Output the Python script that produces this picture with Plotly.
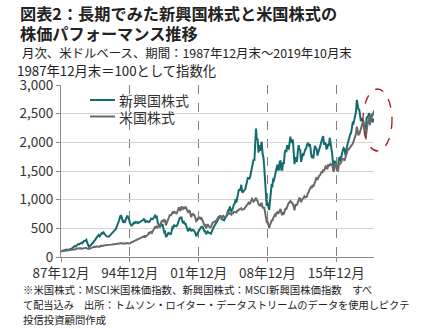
import pandas as pd
import plotly.graph_objects as go

# Monthly index levels, end of Dec 1987 = 100 (USD, dividends reinvested)
dates = pd.date_range("1987-12-01", "2019-10-01", freq="MS")

em_index = [
    100,
    105, 112, 118, 122, 126, 132, 130, 128, 125, 133, 138, 142,
    150, 155, 170, 180, 192, 185, 200, 210, 225, 220, 230, 240,
    250, 240, 260, 280, 275, 290, 300, 250, 200, 180, 190, 205,
    210, 235, 250, 265, 290, 300, 330, 350, 370, 385, 360, 380,
    400, 420, 410, 430, 405, 380, 370, 360, 350, 355, 365, 380,
    390, 400, 420, 440, 450, 470, 490, 530, 560, 600, 640, 700,
    730, 690, 640, 600, 620, 610, 650, 700, 720, 690, 660, 600,
    550, 540, 560, 580, 600, 590, 610, 600, 610, 590, 600, 605,
    630, 640, 635, 640, 660, 650, 610, 620, 625, 615, 610, 620,
    660, 670, 665, 660, 680, 710, 735, 690, 700, 600, 570, 540,
    520, 560, 570, 560, 480, 430, 440, 350, 365, 390, 420, 410,
    405, 400, 450, 520, 510, 560, 545, 540, 540, 560, 610, 670,
    680, 690, 690, 630, 590, 610, 580, 580, 530, 490, 450, 470,
    510, 480, 450, 470, 475, 465, 445, 420, 360, 380, 420, 450,
    480, 490, 520, 530, 520, 480, 450, 450, 400, 420, 445, 425,
    425, 415, 405, 450, 480, 510, 535, 560, 565, 610, 610, 660,
    690, 720, 720, 660, 650, 650, 640, 675, 700, 715, 770, 810,
    810, 880, 820, 800, 830, 860, 920, 930, 1010, 950, 1030, 1100,
    1170, 1170, 1180, 1260, 1140, 1130, 1150, 1180, 1190, 1250, 1330, 1380,
    1380, 1370, 1410, 1480, 1540, 1600, 1700, 1680, 1890, 2240, 2050, 2060,
    1820, 1950, 1850, 2000, 2010, 1800, 1740, 1570, 1330, 960, 890, 950,
    880, 820, 960, 1080, 1250, 1240, 1350, 1340, 1460, 1480, 1550, 1610,
    1510, 1530, 1660, 1680, 1520, 1520, 1650, 1620, 1810, 1870, 1830, 1950,
    1900, 1890, 1990, 2100, 2010, 2000, 2050, 1860, 1620, 1740, 1700, 1660,
    1850, 1950, 1880, 1860, 1660, 1760, 1790, 1780, 1860, 1870, 1890, 1960,
    1990, 1970, 1940, 1950, 1860, 1730, 1750, 1720, 1860, 1940, 1900, 1880,
    1770, 1830, 1890, 1900, 1970, 2020, 2070, 2110, 1960, 1990, 1980, 1890,
    1900, 1970, 1940, 2080, 1990, 1930, 1800, 1630, 1570, 1680, 1620, 1570,
    1520, 1510, 1720, 1730, 1670, 1740, 1830, 1870, 1900, 1880, 1790, 1800,
    1930, 1990, 2040, 2080, 2140, 2160, 2290, 2340, 2330, 2410, 2440, 2530,
    2740, 2630, 2580, 2570, 2480, 2370, 2420, 2370, 2350, 2220, 2250, 2240,
    2430, 2440, 2460, 2510, 2330, 2480, 2460, 2350, 2390, 2410,
]

us_index = [
    100,
    102, 107, 105, 106, 108, 112, 111, 108, 112, 115, 114, 117,
    124, 121, 125, 131, 136, 136, 147, 150, 150, 147, 150, 154,
    145, 147, 151, 147, 160, 160, 159, 146, 139, 139, 147, 152,
    159, 170, 174, 175, 182, 174, 182, 186, 183, 185, 178, 197,
    194, 197, 194, 199, 200, 197, 205, 201, 203, 204, 211, 214,
    216, 219, 224, 218, 224, 225, 224, 232, 230, 235, 233, 236,
    244, 237, 227, 230, 234, 229, 236, 245, 239, 245, 236, 240,
    247, 256, 264, 271, 282, 289, 298, 299, 312, 311, 325, 331,
    343, 347, 350, 356, 365, 367, 350, 358, 378, 388, 418, 410,
    435, 439, 421, 447, 474, 496, 535, 506, 533, 516, 540, 550,
    556, 597, 627, 634, 624, 650, 643, 550, 585, 633, 672, 712,
    741, 718, 747, 776, 758, 800, 775, 772, 751, 799, 816, 865,
    822, 808, 880, 860, 842, 862, 850, 878, 846, 842, 782, 787,
    815, 740, 693, 747, 752, 734, 726, 680, 625, 637, 686, 692,
    682, 669, 694, 652, 647, 601, 555, 559, 498, 541, 573, 540,
    526, 518, 523, 566, 596, 603, 614, 626, 619, 654, 660, 695,
    707, 716, 705, 694, 703, 717, 693, 696, 704, 715, 744, 769,
    750, 766, 752, 738, 762, 763, 791, 784, 790, 777, 806, 806,
    826, 828, 838, 849, 824, 826, 831, 850, 871, 899, 915, 928,
    947, 928, 938, 980, 1014, 997, 966, 980, 1016, 1032, 988, 980,
    922, 892, 888, 931, 943, 864, 856, 869, 791, 659, 611, 618,
    566, 505, 549, 602, 636, 637, 686, 711, 737, 722, 766, 780,
    752, 776, 822, 836, 769, 728, 779, 742, 809, 840, 839, 893,
    914, 946, 946, 975, 964, 947, 927, 876, 814, 904, 901, 910,
    952, 993, 1025, 1018, 956, 996, 1010, 1033, 1058, 1039, 1045, 1054,
    1109, 1124, 1166, 1188, 1216, 1200, 1262, 1225, 1263, 1318, 1357, 1392,
    1343, 1404, 1414, 1424, 1456, 1487, 1467, 1526, 1503, 1540, 1582, 1578,
    1531, 1615, 1590, 1604, 1624, 1593, 1626, 1527, 1487, 1612, 1617, 1590,
    1510, 1505, 1612, 1617, 1645, 1650, 1711, 1712, 1712, 1679, 1740, 1772,
    1806, 1877, 1877, 1896, 1922, 1933, 1970, 1975, 2016, 2063, 2127, 2151,
    2275, 2190, 2135, 2142, 2195, 2208, 2289, 2366, 2378, 2213, 2257, 2080,
    2250, 2320, 2360, 2455, 2300, 2460, 2500, 2455, 2500, 2555,
]

tick_dates = ["1987-12-01", "1994-12-01", "2001-12-01", "2008-12-01", "2015-12-01"]
tick_labels = ["87年12月", "94年12月", "01年12月", "08年12月", "15年12月"]
y_ticks = [0, 500, 1000, 1500, 2000, 2500, 3000]

series_names = ["新興国株式", "米国株式"]
series_colors = ["#146b6e", "#6a6a6a"]

FONT = "Noto Sans CJK JP"
W, H = 431, 329
L, R, T, B = 61, 57, 85, 72
PW, PH = W - L - R, H - T - B


def px(x):
    return (x - L) / PW


def py(y):
    return (H - B - y) / PH


fig = go.Figure()
for name, vals, col in zip(series_names, [em_index, us_index], series_colors):
    fig.add_trace(go.Scatter(
        x=dates, y=vals, name=name, mode="lines",
        line=dict(color=col, width=2), showlegend=False,
    ))

# legend drawn as short line samples with text labels
for i, (name, col) in enumerate(zip(series_names, series_colors)):
    yy = py(100 + i * 16.5)
    fig.add_shape(type="line", xref="paper", yref="paper",
                  x0=px(90), x1=px(115), y0=yy, y1=yy,
                  line=dict(color=col, width=2))
    fig.add_annotation(xref="paper", yref="paper", x=px(117), y=yy,
                       text=name, showarrow=False, xanchor="left", yanchor="middle",
                       font=dict(family=FONT, size=14, color="#333333"))

# dashed ellipse highlighting the latest months
fig.add_shape(type="circle", xref="paper", yref="paper",
              x0=px(363), x1=px(392), y0=py(151), y1=py(89),
              line=dict(color="#b01818", width=1.3, dash="dash"))

# headings and notes
texts = [
    ("図表2：長期でみた新興国株式と米国株式の", 18, 13, 16.2, True),
    ("株価パフォーマンス推移", 18, 33, 16.2, True),
    ("月次、米ドルベース、期間：1987年12月末～2019年10月末", 20, 53, 12.4, False),
    ("1987年12月末＝100として指数化", 15, 70.5, 13.3, False),
    ("※米国株式：MSCI米国株価指数、新興国株式：MSCI新興国株価指数　すべ", 21, 289, 10.4, False),
    ("て配当込み　出所：トムソン・ロイター・データストリームのデータを使用しピクテ", 21, 304, 10.2, False),
    ("投信投資顧問作成", 21, 319, 10.4, False),
]
for txt, x, y, size, bold in texts:
    fig.add_annotation(xref="paper", yref="paper", x=px(x), y=py(y),
                       text=f"<b>{txt}</b>" if bold else txt,
                       showarrow=False, xanchor="left", yanchor="middle",
                       font=dict(family=FONT, size=size, color="#222222"))

fig.update_layout(
    width=W, height=H,
    margin=dict(l=L, r=R, t=T, b=B),
    paper_bgcolor="white", plot_bgcolor="white",
    font=dict(family=FONT, size=13, color="#333333"),
    xaxis=dict(
        range=[dates[0], dates[-1]],
        tickvals=tick_dates, ticktext=tick_labels,
        showgrid=True, gridcolor="#808080", griddash="dash", gridwidth=1,
        showline=True, linecolor="#8c8c8c", linewidth=1,
        ticks="outside", ticklen=4, tickcolor="#8c8c8c",
        tickfont=dict(family=FONT, size=13.5, color="#333333"),
        zeroline=False,
    ),
    yaxis=dict(
        range=[0, 3000], tickvals=y_ticks, tickformat=",",
        showgrid=True, gridcolor="#d4d4d4", gridwidth=1,
        showline=True, linecolor="#8c8c8c", linewidth=1,
        ticks="outside", ticklen=4, tickcolor="#8c8c8c",
        tickfont=dict(family=FONT, size=13.5, color="#333333"),
        zeroline=False,
    ),
)

fig.write_html("out.html")
